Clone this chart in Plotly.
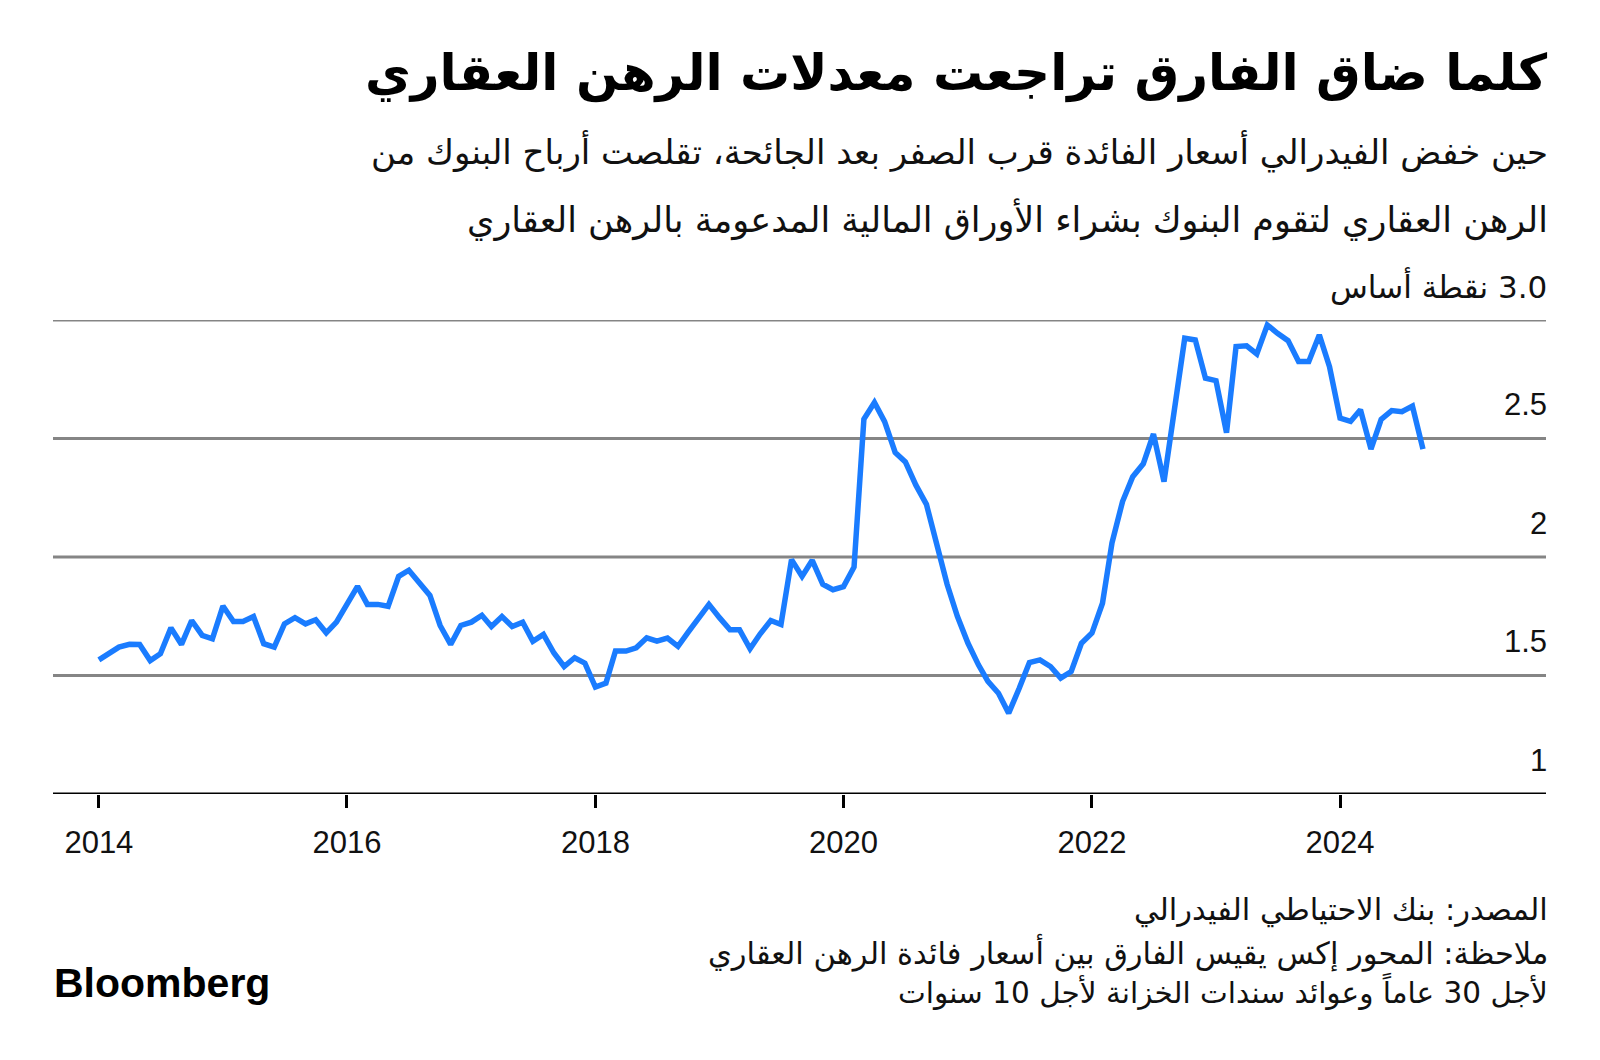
import plotly.graph_objects as go

# ---- data (monthly, Jan 2014 - Sep 2024), spread in percentage points ----
years = [2014, 2015, 2016, 2017, 2018, 2019, 2020, 2021, 2022, 2023, 2024]
v2014 = [1.566, 1.592, 1.620, 1.632, 1.631, 1.563, 1.592, 1.701, 1.631, 1.732, 1.669, 1.655]
v2015 = [1.793, 1.728, 1.728, 1.749, 1.634, 1.620, 1.718, 1.744, 1.718, 1.735, 1.680, 1.725]
v2016 = [1.796, 1.876, 1.800, 1.800, 1.792, 1.918, 1.944, 1.890, 1.838, 1.711, 1.631, 1.711]
v2017 = [1.725, 1.754, 1.707, 1.749, 1.707, 1.725, 1.644, 1.673, 1.595, 1.538, 1.575, 1.552]
v2018 = [1.451, 1.468, 1.603, 1.603, 1.617, 1.659, 1.645, 1.658, 1.623, 1.683, 1.744, 1.800]
v2019 = [1.744, 1.693, 1.693, 1.613, 1.676, 1.732, 1.715, 1.989, 1.918, 1.986, 1.885, 1.862]
v2020 = [1.875, 1.958, 2.582, 2.652, 2.571, 2.441, 2.401, 2.303, 2.222, 2.055, 1.884, 1.750]
v2021 = [1.637, 1.545, 1.475, 1.425, 1.341, 1.446, 1.555, 1.566, 1.538, 1.489, 1.517, 1.636]
v2022 = [1.679, 1.805, 2.060, 2.234, 2.339, 2.393, 2.519, 2.318, 2.627, 2.923, 2.916, 2.754]
v2023 = [2.744, 2.525, 2.888, 2.891, 2.857, 2.979, 2.944, 2.913, 2.825, 2.825, 2.937, 2.803]
v2024 = [2.586, 2.572, 2.621, 2.455, 2.581, 2.618, 2.613, 2.637, 2.455]
yearly = [v2014, v2015, v2016, v2017, v2018, v2019, v2020, v2021, v2022, v2023, v2024]

x_tick_vals = ["2014-01-01", "2016-01-01", "2018-01-01", "2020-01-01", "2022-01-01", "2024-01-01"]
x_tick_text = ["2014", "2016", "2018", "2020", "2022", "2024"]
grid_vals = [1.5, 2.0, 2.5, 3.0]
y_label_vals = [1.0, 1.5, 2.0, 2.5, 3.0]
y_label_text = ["1", "1.5", "2", "2.5", "3.0 نقطة أساس"]

title = "كلما ضاق الفارق تراجعت معدلات الرهن العقاري"
subtitle1 = "حين خفض الفيدرالي أسعار الفائدة قرب الصفر بعد الجائحة، تقلصت أرباح البنوك من"
subtitle2 = "الرهن العقاري لتقوم البنوك بشراء الأوراق المالية المدعومة بالرهن العقاري"
footer1 = "المصدر: بنك الاحتياطي الفيدرالي"
footer2 = "ملاحظة: المحور إكس يقيس الفارق بين أسعار فائدة الرهن العقاري"
footer3 = "لأجل 30 عاماً وعوائد سندات الخزانة لأجل 10 سنوات"

dates = []
values = []
for y, arr in zip(years, yearly):
    for m, v in enumerate(arr, start=1):
        dates.append(f"{y}-{m:02d}-01")
        values.append(v)

RLE, PDF = "\u202B", "\u202C"
def rtl(s):
    return RLE + s + PDF

AR = "DejaVu Sans"
NUM = "Liberation Sans, Arial, sans-serif"

W, H = 1600, 1060
L, R, T, B = 53, 54, 320, 266

fig = go.Figure()
fig.add_trace(go.Scatter(
    x=dates, y=values, mode="lines",
    line=dict(color="#1a7cff", width=5.5),
    cliponaxis=False, hoverinfo="x+y", showlegend=False,
))

shapes = []
for g in grid_vals:
    shapes.append(dict(type="line", xref="paper", x0=0, x1=1, yref="y", y0=g, y1=g,
                       line=dict(color="#858585", width=3), layer="below"))
shapes.append(dict(type="line", xref="paper", x0=0, x1=1, yref="y", y0=1, y1=1,
                   line=dict(color="#000000", width=3), layer="above"))

annotations = []
for v, t in zip(y_label_vals, y_label_text):
    annotations.append(dict(xref="paper", x=1, xanchor="right", xshift=3, yref="y", y=v, yanchor="middle",
                            yshift=34, text=rtl(t), showarrow=False,
                            font=dict(family=NUM if len(t) < 5 else AR, size=31, color="#111")))

def ptext(txt, ypix, size, bold=False, color="#000", xpix=1550, anchor="right", family=AR):
    return dict(xref="paper", yref="paper", x=(xpix - L) / (W - L - R), y=1 - (ypix - T) / (H - T - B),
                xanchor=anchor, yanchor="middle", text=(f"<b>{rtl(txt)}</b>" if bold else rtl(txt)),
                showarrow=False, font=dict(family=family, size=size, color=color))

annotations.append(ptext(title, 73, 50, bold=True))
annotations.append(ptext(subtitle1, 151, 34, color="#111"))
annotations.append(ptext(subtitle2, 219, 35, color="#111"))
annotations.append(ptext(footer1, 910, 30.5, color="#111"))
annotations.append(ptext(footer2, 952, 30.5, color="#111"))
annotations.append(ptext(footer3, 991, 29.5, color="#111"))
annotations.append(dict(xref="paper", yref="paper", x=(52 - L) / (W - L - R), y=1 - (983 - T) / (H - T - B),
                        xanchor="left", yanchor="middle", text="<b>Bloomberg</b>", showarrow=False,
                        font=dict(family=NUM, size=41, color="#000")))

fig.update_layout(
    width=W, height=H,
    margin=dict(l=L, r=R, t=T, b=B),
    paper_bgcolor="white", plot_bgcolor="white",
    xaxis=dict(type="date", range=["2013-08-19", "2025-08-29"], showgrid=False, zeroline=False,
               showline=False, tickmode="array", tickvals=x_tick_vals, ticktext=x_tick_text,
               ticks="outside", ticklen=13, tickwidth=2.5, tickcolor="#000", ticklabelstandoff=8,
               tickfont=dict(family=NUM, size=31, color="#111")),
    yaxis=dict(range=[1, 3], showgrid=False, zeroline=False, showline=False, showticklabels=False,
               ticks=""),
    shapes=shapes, annotations=annotations,
)

fig.write_html("out.html", config={"displayModeBar": False},
               post_script="document.body.style.margin='0';document.body.style.overflow='hidden';")
